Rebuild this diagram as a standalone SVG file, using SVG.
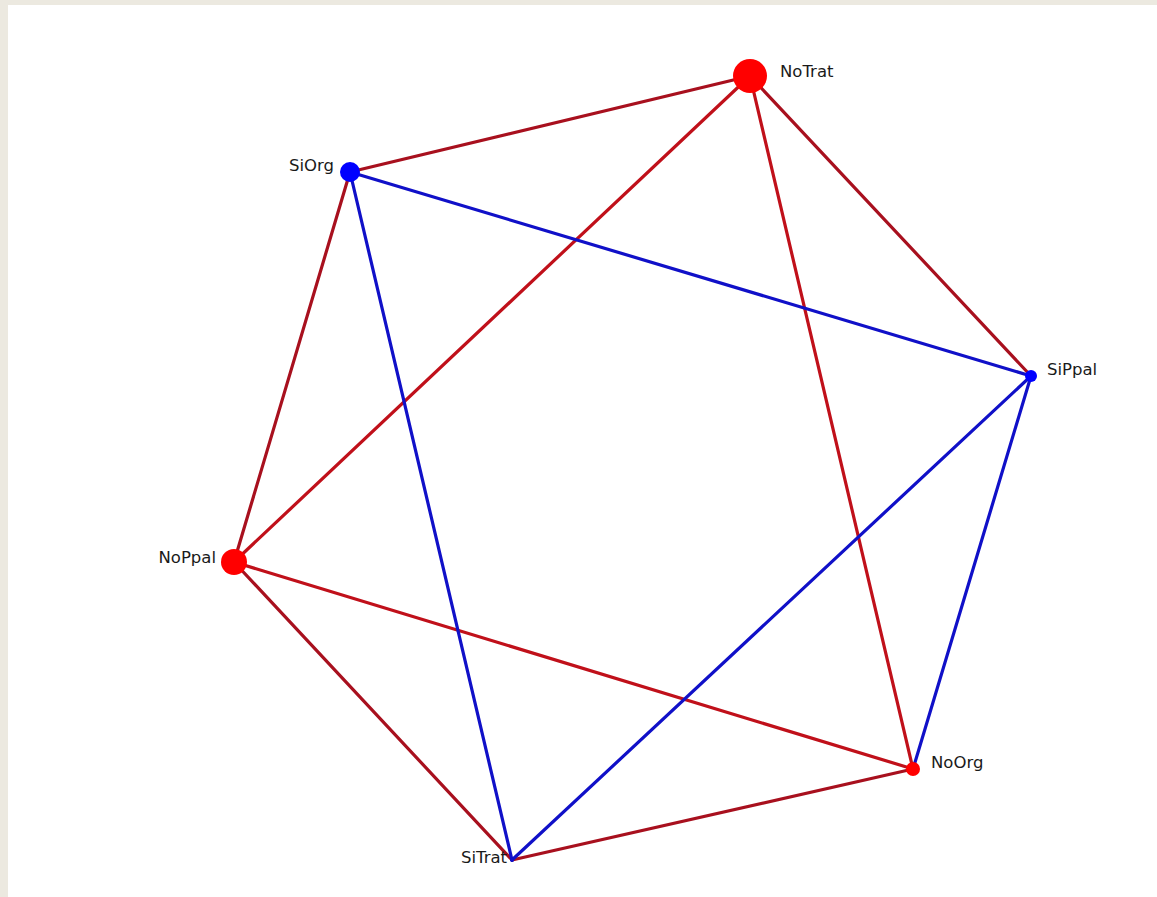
<svg xmlns="http://www.w3.org/2000/svg" width="1157" height="897" viewBox="0 0 1157 897">
<style>
.e{fill:none;stroke-width:3.2;stroke-linecap:round}
.r1{stroke:#A8101E}
.r2{stroke:#C0101A}
.b{stroke:#1010C8}
.lbl{font-family:"DejaVu Sans",Verdana,sans-serif;font-size:16.5px;fill:#1a1a1a}
</style>
<rect x="0" y="0" width="1157" height="897" fill="#ECE9E0"/>
<rect x="8" y="5" width="1149" height="892" fill="#FFFFFF"/>
<g id="connectors">
<line class="e r1" x1="750" y1="76" x2="350" y2="172"/>
<line class="e r1" x1="750" y1="76" x2="1031" y2="376"/>
<line class="e r2" x1="750" y1="76" x2="234" y2="562"/>
<line class="e r2" x1="750" y1="76" x2="913" y2="769"/>
<line class="e r1" x1="350" y1="172" x2="234" y2="562"/>
<line class="e r2" x1="234" y1="562" x2="913" y2="769"/>
<line class="e r1" x1="234" y1="562" x2="512" y2="860"/>
<line class="e r1" x1="512" y1="860" x2="913" y2="769"/>
<line class="e b" x1="350" y1="172" x2="1031" y2="376"/>
<line class="e b" x1="350" y1="172" x2="512" y2="860"/>
<line class="e b" x1="1031" y1="376" x2="512" y2="860"/>
<line class="e b" x1="1031" y1="376" x2="913" y2="769"/>
</g>
<g id="NoTrat"><circle cx="750" cy="76" r="17" fill="#FF0000"/><text class="lbl" x="780" y="77">NoTrat</text></g>
<g id="SiOrg"><circle cx="350" cy="172" r="10" fill="#0000FF"/><text class="lbl" x="334" y="171" text-anchor="end">SiOrg</text></g>
<g id="SiPpal"><circle cx="1031" cy="376" r="6" fill="#0000FF"/><text class="lbl" x="1047" y="375">SiPpal</text></g>
<g id="NoPpal"><circle cx="234" cy="562" r="13" fill="#FF0000"/><text class="lbl" x="216" y="563" text-anchor="end">NoPpal</text></g>
<g id="NoOrg"><circle cx="913" cy="769" r="7" fill="#FF0000"/><text class="lbl" x="931" y="768">NoOrg</text></g>
<g id="SiTrat"><circle cx="512" cy="860" r="2" fill="#1010C8"/><text class="lbl" x="507" y="863" text-anchor="end">SiTrat</text></g>
</svg>
